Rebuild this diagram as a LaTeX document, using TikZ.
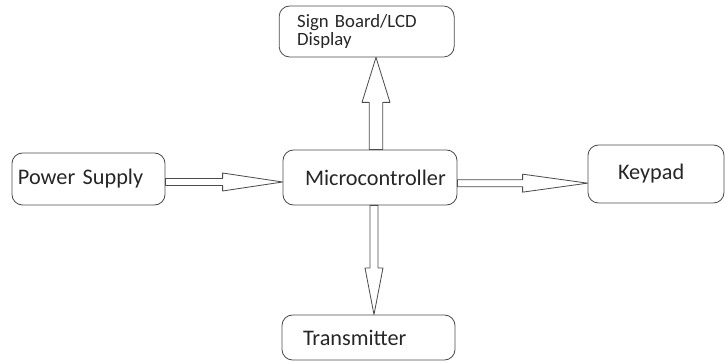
\documentclass[tikz,border=0pt]{standalone}
\usepackage{fontspec}
\setmainfont{Carlito}
\usetikzlibrary{calc}

% hollow block arrow: from, to, head length, shaft half width, head half width
\newcommand\blockarrow[5]{%
  \coordinate (ah) at ($(#2)!#3!(#1)$);
  \draw[flow] ($(#1)!#4!90:(#2)$) -- ($(ah)!#4!90:(#2)$) -- ($(ah)!#5!90:(#2)$)
    -- (#2) -- ($(ah)!#5!-90:(#2)$) -- ($(ah)!#4!-90:(#2)$) -- ($(#1)!#4!-90:(#2)$) -- cycle;}

\begin{document}
\begin{tikzpicture}[font=\fontsize{19}{21}\selectfont,
  blk/.style={draw=black!70, line width=0.7pt, rounded corners=9pt, align=left,
              inner ysep=0pt, text=black!85},
  flow/.style={draw=black!70, line width=0.7pt, line join=round, fill=white},
]
  \useasboundingbox (0,0) rectangle (21.75,-10.89);

  \node[blk, text width=4.17cm, inner xsep=0.54cm, minimum height=1.53cm,
        font=\fontsize{16}{15}\selectfont] (sign) at (11.0,-0.945) {Sign Board/LCD\\Display};
  \node[blk, text width=4.23cm, inner xsep=0.18cm, minimum height=1.56cm] (power) at (2.655,-5.37) {Power Supply};
  \node[blk, text width=3.9cm, inner xsep=0.66cm, minimum height=1.65cm] (micro) at (11.1,-5.325) {Microcontroller};
  \node[blk, text width=2.28cm, inner xsep=0.9cm, minimum height=1.74cm] (keypad) at (19.68,-5.22) {Keypad};
  \node[blk, text width=3.93cm, inner xsep=0.63cm, minimum height=1.35cm] (trans) at (11.055,-10.125) {Transmitter};

  \coordinate (p1) at ($(power.east)+(0,-0.09)$);
  \coordinate (p2) at (p1 -| micro.west);
  \coordinate (k1) at ($(micro.east)+(0,-0.17)$);
  \coordinate (k2) at (k1 -| keypad.west);
  \coordinate (s1) at ($(micro.north)+(0.18,0)$);
  \coordinate (s2) at (s1 |- sign.south);
  \coordinate (t1) at ($(micro.south)+(0.12,0)$);
  \coordinate (t2) at (t1 |- trans.north);

  \blockarrow{p1}{p2}{1.8cm}{0.105cm}{0.27cm}
  \blockarrow{k1}{k2}{1.95cm}{0.105cm}{0.27cm}
  \blockarrow{s1}{s2}{1.35cm}{0.2cm}{0.42cm}
  \blockarrow{t1}{t2}{1.4cm}{0.12cm}{0.27cm}
\end{tikzpicture}
\end{document}
